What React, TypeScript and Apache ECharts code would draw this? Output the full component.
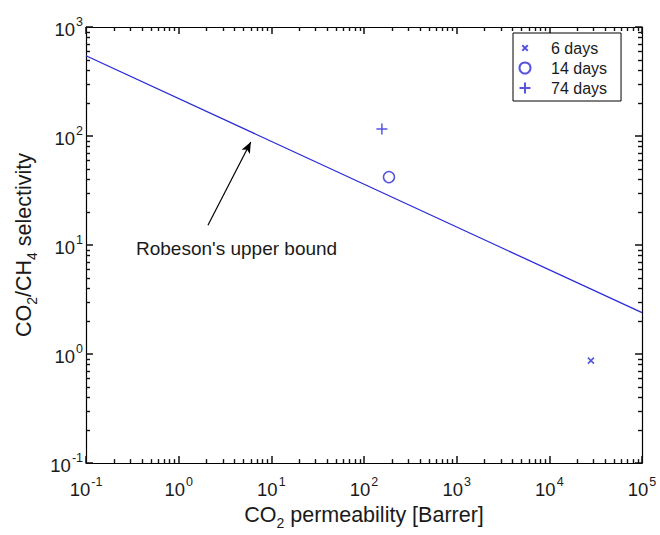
import React, { useEffect, useRef } from "react";
import * as echarts from "echarts";

// Data
const robesonLine: [number, number][] = [
  [0.1, 545],
  [1e5, 2.4],
];
const days6: [number, number][] = [[28100, 0.87]];
const days14: [number, number][] = [[186, 42]];
const days74: [number, number][] = [[156, 116]];
const arrowFrom: [number, number] = [2.07, 15.2];
const arrowTo: [number, number] = [6.0, 88];

const xMin = 0.1;
const xMax = 1e5;
const yMin = 0.1;
const yMax = 1000;

const BLUE = "#2a2ad8";
const FONT = "Liberation Sans, Arial, sans-serif";
const TXT = "#1a1a1a";

const expLabel = (v: number) => {
  const e = Math.round(Math.log10(v));
  return `{b|10}{s|${e}}`;
};
const labelRich = {
  b: { fontSize: 18.5, fontFamily: FONT, color: TXT, lineHeight: 24, verticalAlign: "bottom" },
  s: { fontSize: 12.5, fontFamily: FONT, color: TXT, lineHeight: 24, verticalAlign: "top", padding: [0, 0, 0, 1] },
};
const nameRich = {
  n: { fontSize: 21.5, fontFamily: FONT, color: TXT, lineHeight: 26, verticalAlign: "top" },
  sub: { fontSize: 14, fontFamily: FONT, color: TXT, lineHeight: 26, verticalAlign: "bottom" },
};

export default function App() {
  const ref = useRef<HTMLDivElement>(null);
  useEffect(() => {
    document.body.style.margin = "0";
    if (!ref.current) return;
    const chart = echarts.init(ref.current, undefined, { renderer: "svg" });
    const axisCommon = {
      type: "log" as const,
      logBase: 10,
      axisLine: { show: true, lineStyle: { color: "#000", width: 1.2 } },
      axisTick: { show: true, inside: true, length: 7, lineStyle: { color: "#111", width: 1.5 } },
      minorTick: { show: true, splitNumber: 9, length: 4, lineStyle: { color: "#111", width: 1.4 } },
      splitLine: { show: false },
      minorSplitLine: { show: false },
    };
    chart.setOption({
      animation: false,
      backgroundColor: "#fff",
      textStyle: { fontFamily: FONT },
      grid: { left: 86, right: 18, top: 27, bottom: 68 },
      xAxis: [
        {
          ...axisCommon,
          min: xMin,
          max: xMax,
          position: "bottom",
          axisLabel: { formatter: expLabel, rich: labelRich, margin: 12 },
          name: "{n|CO}{sub|2}{n| permeability [Barrer]}",
          nameLocation: "middle",
          nameGap: 31,
          nameTextStyle: { rich: nameRich },
        },
        {
          ...axisCommon,
          min: xMin,
          max: xMax,
          position: "top",
          axisLabel: { show: false },
        },
      ],
      yAxis: [
        {
          ...axisCommon,
          min: yMin,
          max: yMax,
          position: "left",
          axisLabel: { formatter: expLabel, rich: labelRich, margin: 3 },
          name: "{n|CO}{sub|2}{n|/CH}{sub|4}{n| selectivity}",
          nameLocation: "middle",
          nameRotate: 90,
          nameGap: 44,
          nameTextStyle: { rich: nameRich },
        },
        {
          ...axisCommon,
          min: yMin,
          max: yMax,
          position: "right",
          axisLabel: { show: false },
        },
      ],
      legend: {
        data: [
          { name: "6 days", icon: "path://M-3,-3M0,0L6,6M0,6L6,0M9,9" },
          { name: "14 days" },
          { name: "74 days" },
        ],
        orient: "vertical",
        left: 513,
        top: 33,
        padding: [7, 14, 5, 4],
        itemWidth: 42,
        itemHeight: 11,
        itemGap: 4,
        borderColor: "#000",
        borderWidth: 1,
        backgroundColor: "#fff",
        textStyle: { fontSize: 16, lineHeight: 15, fontFamily: FONT, color: TXT },
      },
      series: [
        {
          type: "line",
          name: "Robeson",
          data: robesonLine,
          showSymbol: false,
          symbol: "none",
          lineStyle: { color: BLUE, width: 1.3 },
          markLine: {
            silent: true,
            symbol: ["none", "arrow"],
            symbolSize: [7, 11],
            label: { show: false },
            lineStyle: { color: "#000", width: 1.2, type: "solid" },
            data: [[{ coord: arrowFrom }, { coord: arrowTo }]],
          },
        },
        {
          type: "scatter",
          name: "6 days",
          data: days6,
          symbol: "path://M0,0L10,10M0,10L10,0",
          symbolSize: 6,
          itemStyle: { color: "none", borderColor: BLUE, borderWidth: 1.6 },
        },
        {
          type: "scatter",
          name: "14 days",
          data: days14,
          symbol: "circle",
          symbolSize: 11,
          itemStyle: { color: "none", borderColor: BLUE, borderWidth: 1.5 },
        },
        {
          type: "scatter",
          name: "74 days",
          data: days74,
          symbol: "path://M5,0L5,10M0,5L10,5",
          symbolSize: 11,
          itemStyle: { color: "none", borderColor: BLUE, borderWidth: 1.5 },
        },
      ],
      graphic: [
        {
          type: "text",
          x: 136,
          y: 248,
          style: {
            text: "Robeson's upper bound",
            fontSize: 19,
            fontFamily: FONT,
            fill: TXT,
            verticalAlign: "middle",
          },
        },
      ],
    });
    return () => chart.dispose();
  }, []);
  return <div ref={ref} style={{ width: 660, height: 535 }} />;
}
